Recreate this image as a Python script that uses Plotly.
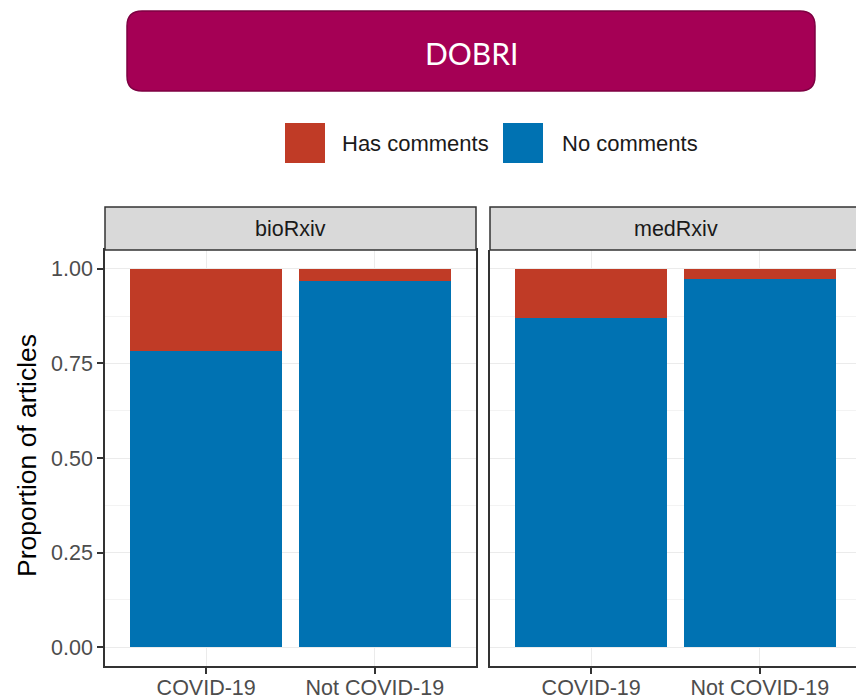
import plotly.graph_objects as go

# ---------------- data ----------------
servers = ["bioRxiv", "medRxiv"]
categories = ["COVID-19", "Not COVID-19"]
no_comments = {"bioRxiv": [0.784, 0.967], "medRxiv": [0.870, 0.974]}
has_comments = {"bioRxiv": [0.216, 0.033], "medRxiv": [0.130, 0.026]}
y_ticks = [0.0, 0.25, 0.5, 0.75, 1.0]
y_ticklabels = ["0.00", "0.25", "0.50", "0.75", "1.00"]
series_names = ["Has comments", "No comments"]
title_text = "DOBRI"

# ---------------- styling ----------------
W, H = 856, 699
RED = "#C03B26"
BLUE = "#0072B2"
TITLE_FILL = "#A50055"
TITLE_EDGE = "#7E0042"
FONT = "Liberation Sans, Arial, sans-serif"


def px(x):
    return x / W


def py(y):
    return 1 - y / H


fig = go.Figure()

axes = [("x", "y"), ("x2", "y2")]
for (xa, ya), srv in zip(axes, servers):
    fig.add_trace(go.Bar(x=categories, y=no_comments[srv], name=series_names[1],
                         marker=dict(color=BLUE, line=dict(width=0)), width=0.9,
                         xaxis=xa, yaxis=ya, showlegend=False))
    fig.add_trace(go.Bar(x=categories, y=has_comments[srv], name=series_names[0],
                         marker=dict(color=RED, line=dict(width=0)), width=0.9,
                         xaxis=xa, yaxis=ya, showlegend=False))

# panel geometry (pixels)
left_x0, left_x1 = 105, 476
right_x0 = 490
panel_w = left_x1 - left_x0
unit = panel_w / 2.2
plot_top, plot_bot = 250, 666
strip_top = 207

grid_major = "#EBEBEB"
grid_minor = "#F3F3F3"
border = "#333333"
tick_font = dict(family=FONT, size=21.5, color="#4D4D4D")

yaxis_common = dict(range=[-0.05, 1.05], domain=[py(plot_bot), py(plot_top)],
                    tickvals=y_ticks, ticktext=y_ticklabels, showgrid=True,
                    gridcolor=grid_major, gridwidth=1.2, zeroline=False,
                    minor=dict(tickvals=[0.125, 0.375, 0.625, 0.875], showgrid=True,
                               gridcolor=grid_minor, gridwidth=0.8, ticks=""),
                    tickfont=tick_font, automargin=False, fixedrange=True)
xaxis_common = dict(type="category", categoryorder="array", categoryarray=categories,
                    showgrid=True, gridcolor=grid_major, gridwidth=1.2, zeroline=False,
                    ticks="outside", ticklen=6, tickwidth=1.5, tickcolor=border,
                    tickfont=tick_font, showline=True, linecolor=border, linewidth=1.5,
                    ticklabelstandoff=-5, automargin=False, fixedrange=True)

fig.update_layout(
    width=W, height=H,
    margin=dict(l=0, r=0, t=0, b=0, pad=0),
    paper_bgcolor="white", plot_bgcolor="white",
    barmode="stack", bargap=0.1,
    showlegend=False,
    xaxis=dict(xaxis_common, domain=[px(left_x0), px(left_x1)], range=[-0.6, 1.6],
               anchor="y", mirror=True),
    yaxis=dict(yaxis_common, anchor="x", ticks="outside", ticklen=6, tickwidth=1.5,
               tickcolor=border, showline=True, linecolor=border, linewidth=1.5,
               mirror=True, showticklabels=True),
    xaxis2=dict(xaxis_common, domain=[px(right_x0), 1.0],
                range=[-0.6, -0.6 + (W - right_x0) / unit], anchor="y2", mirror=False),
    yaxis2=dict(yaxis_common, anchor="x2", ticks="", showline=True, linecolor=border,
                linewidth=1.5, mirror=False, showticklabels=False),
)

shapes = []
annotations = []

# title box with rounded corners
x0, x1, y0, y1, r = 127, 815, 11, 91, 15
path = (f"M {px(x0 + r)},{py(y0)} L {px(x1 - r)},{py(y0)} "
        f"Q {px(x1)},{py(y0)} {px(x1)},{py(y0 + r)} L {px(x1)},{py(y1 - r)} "
        f"Q {px(x1)},{py(y1)} {px(x1 - r)},{py(y1)} L {px(x0 + r)},{py(y1)} "
        f"Q {px(x0)},{py(y1)} {px(x0)},{py(y1 - r)} L {px(x0)},{py(y0 + r)} "
        f"Q {px(x0)},{py(y0)} {px(x0 + r)},{py(y0)} Z")
shapes.append(dict(type="path", xref="paper", yref="paper", path=path,
                   fillcolor=TITLE_FILL, line=dict(color=TITLE_EDGE, width=1.5)))
annotations.append(dict(text=title_text, xref="paper", yref="paper",
                        x=px(471.5), y=py(53), xanchor="center", yanchor="middle",
                        showarrow=False,
                        font=dict(family="Lato, Noto Sans, sans-serif", size=30,
                                  color="white")))

# legend (drawn manually to match large keys)
legend_items = [(series_names[0], RED, 285, 340), (series_names[1], BLUE, 503, 560)]
for name, col, kx, tx in legend_items:
    shapes.append(dict(type="rect", xref="paper", yref="paper",
                       x0=px(kx), x1=px(kx + 40), y0=py(163), y1=py(123),
                       fillcolor=col, line=dict(width=0)))
    annotations.append(dict(text=name, xref="paper", yref="paper", x=px(tx), y=py(144),
                            xanchor="left", yanchor="middle", showarrow=False,
                            font=dict(family=FONT, size=22, color="#1A1A1A")))

# facet strips
for sx0, sx1, label in [(left_x0, left_x1, servers[0]), (right_x0, W + 20, servers[1])]:
    shapes.append(dict(type="rect", xref="paper", yref="paper",
                       x0=px(sx0), x1=px(sx1), y0=py(plot_top), y1=py(strip_top),
                       fillcolor="#D9D9D9", line=dict(color=border, width=1.5)))
    annotations.append(dict(text=label, xref="paper", yref="paper",
                            x=px((sx0 + sx0 + panel_w) / 2), y=py(229),
                            xanchor="center", yanchor="middle", showarrow=False,
                            font=dict(family=FONT, size=21.5, color="#1A1A1A")))

# y-axis title
annotations.append(dict(text="Proportion of articles", xref="paper", yref="paper",
                        x=px(27), y=py(456), xanchor="center", yanchor="middle",
                        textangle=-90, showarrow=False,
                        font=dict(family=FONT, size=26.5, color="#000000")))

fig.update_layout(shapes=shapes, annotations=annotations)

# remove the default page margin so the figure fills the window exactly
fig.write_html("out.html",
               config={"displayModeBar": False},
               post_script="document.body.style.margin='0px';"
                           "document.body.style.overflow='hidden';")
